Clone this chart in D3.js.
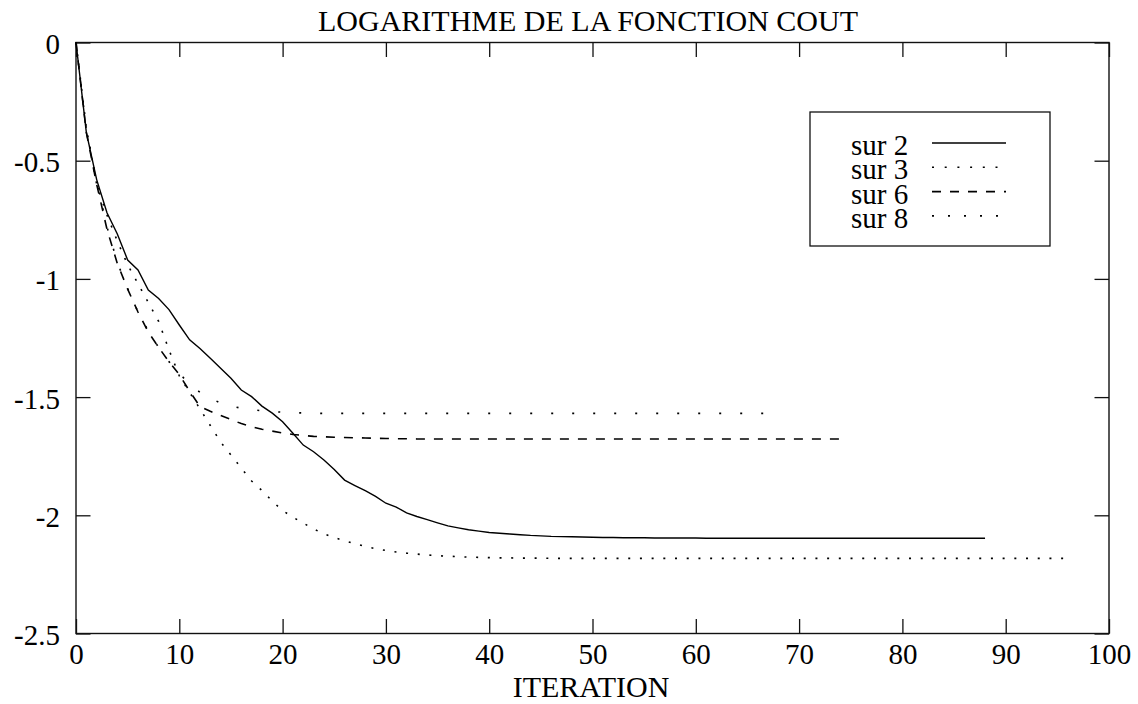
<!DOCTYPE html>
<html>
<head>
<meta charset="utf-8">
<script src="https://cdn.jsdelivr.net/npm/d3@7/dist/d3.min.js"></script>
<style>
  html, body { margin: 0; padding: 0; background: #fff; }
  svg { display: block; }
  text { font-family: "Liberation Serif", "Times New Roman", serif; fill: #000; }
</style>
</head>
<body>
<svg id="chart" width="1138" height="704"></svg>
<script>
// Log of the cost function per iteration, one series per subdivision ("sur N").
// Index in each array = iteration number.
const sur2 = [0, -0.38, -0.58, -0.72, -0.81, -0.92, -0.962, -1.047, -1.083, -1.13,
  -1.195, -1.258, -1.294, -1.336, -1.378, -1.42, -1.47, -1.498, -1.538, -1.568,
  -1.604, -1.653, -1.703, -1.731, -1.766, -1.806, -1.851, -1.874, -1.896, -1.92,
  -1.949, -1.965, -1.99, -2.005, -2.018, -2.032, -2.045, -2.053, -2.061, -2.067,
  -2.073, -2.076, -2.079, -2.082, -2.085, -2.087, -2.089, -2.090, -2.091, -2.092,
  -2.093, -2.094, -2.094, -2.095, -2.095, -2.095, -2.096, -2.096, -2.096, -2.096,
  -2.096, -2.097, -2.097, -2.097, -2.097, -2.097, -2.097, -2.097, -2.097, -2.097,
  -2.097, -2.097, -2.097, -2.097, -2.097, -2.097, -2.097, -2.097, -2.097, -2.097,
  -2.097, -2.097, -2.097, -2.097, -2.097, -2.097, -2.097, -2.097, -2.097];

const sur3 = [0, -0.36, -0.60, -0.73, -0.84, -0.94, -1.02, -1.10, -1.18, -1.30,
  -1.41, -1.48, -1.55, -1.62, -1.69, -1.745, -1.80, -1.855, -1.895, -1.94,
  -1.98, -2.008, -2.033, -2.058, -2.078, -2.094, -2.108, -2.12, -2.132, -2.141,
  -2.149, -2.155, -2.16, -2.164, -2.168, -2.171, -2.173, -2.175, -2.177, -2.178,
  -2.179, -2.18, -2.18, -2.181, -2.181, -2.181, -2.182, -2.182, -2.182, -2.182,
  -2.182, -2.182, -2.182, -2.182, -2.182, -2.182, -2.182, -2.182, -2.182, -2.182,
  -2.182, -2.182, -2.182, -2.182, -2.182, -2.182, -2.182, -2.182, -2.182, -2.182,
  -2.182, -2.182, -2.182, -2.182, -2.182, -2.182, -2.182, -2.182, -2.182, -2.182,
  -2.182, -2.182, -2.182, -2.182, -2.182, -2.182, -2.182, -2.182, -2.182, -2.182,
  -2.182, -2.182, -2.182, -2.182, -2.182, -2.182, -2.182];

const sur6 = [0, -0.38, -0.60, -0.79, -0.935, -1.043, -1.14, -1.225, -1.29, -1.35,
  -1.405, -1.475, -1.54, -1.56, -1.578, -1.595, -1.612, -1.626, -1.636, -1.644,
  -1.652, -1.658, -1.662, -1.666, -1.668, -1.670, -1.671, -1.672, -1.673, -1.674,
  -1.675, -1.676, -1.676, -1.677, -1.677, -1.677, -1.677, -1.677, -1.677, -1.677,
  -1.677, -1.677, -1.677, -1.677, -1.677, -1.677, -1.677, -1.677, -1.677, -1.677,
  -1.677, -1.677, -1.677, -1.677, -1.677, -1.677, -1.677, -1.677, -1.677, -1.677,
  -1.677, -1.677, -1.677, -1.677, -1.677, -1.677, -1.677, -1.677, -1.677, -1.677,
  -1.677, -1.677, -1.677, -1.677, -1.677];

const sur8 = [0, -0.37, -0.59, -0.78, -0.93, -1.04, -1.14, -1.22, -1.29, -1.35,
  -1.40, -1.445, -1.48, -1.505, -1.525, -1.538, -1.547, -1.553, -1.558, -1.561,
  -1.564, -1.566, -1.567, -1.568, -1.569, -1.569, -1.569, -1.569, -1.569, -1.569,
  -1.569, -1.569, -1.569, -1.569, -1.569, -1.569, -1.569, -1.569, -1.569, -1.569,
  -1.569, -1.569, -1.569, -1.569, -1.569, -1.569, -1.569, -1.569, -1.569, -1.569,
  -1.569, -1.569, -1.569, -1.569, -1.569, -1.569, -1.569, -1.569, -1.569, -1.569,
  -1.569, -1.569, -1.569, -1.569, -1.569, -1.569, -1.569, -1.569];

const seriesNames = ["sur 2", "sur 3", "sur 6", "sur 8"];
const xTicks = [0, 10, 20, 30, 40, 50, 60, 70, 80, 90, 100];
const yTicks = [0, -0.5, -1, -1.5, -2, -2.5];
const yTickLabels = ["0", "-0.5", "-1", "-1.5", "-2", "-2.5"];
const titleText = "LOGARITHME DE LA FONCTION COUT";
const xLabelText = "ITERATION";

// Line style per series: curve dash pattern and legend sample dash pattern
const styles = [
  { dash: null,    legendDash: null },
  { dash: "2,9.7", legendDash: "2,10.7" },
  { dash: "9,9",   legendDash: "9,9" },
  { dash: "2,19",  legendDash: "2,14" }
];
const seriesData = [sur2, sur3, sur6, sur8];

const svg = d3.select("#chart");
const W = 1138, H = 704;
const m = { left: 76, right: W - 1109, top: 42.5, bottom: H - 633.5 };

const x = d3.scaleLinear().domain([0, 100]).range([m.left, W - m.right]);
const y = d3.scaleLinear().domain([-2.5, 0]).range([H - m.bottom, m.top]);

const fs = 29;
const titleFs = 30;
const tickLen = 14.5;
const axisColor = "#111";

// Frame with inward ticks on all four sides
svg.append("rect")
  .attr("x", x(0)).attr("y", y(0))
  .attr("width", x(100) - x(0)).attr("height", y(-2.5) - y(0))
  .attr("fill", "none").attr("stroke", axisColor).attr("stroke-width", 1.4);

const bottomAxis = d3.axisBottom(x).tickValues(xTicks).tickSize(-tickLen).tickFormat(d => String(d));
const topAxis = d3.axisTop(x).tickValues(xTicks).tickSize(-tickLen).tickFormat("");
const leftAxis = d3.axisLeft(y).tickValues(yTicks).tickSize(-tickLen)
  .tickFormat((d, i) => yTickLabels[i]);
const rightAxis = d3.axisRight(y).tickValues(yTicks).tickSize(-tickLen).tickFormat("");

function styleAxis(g) {
  g.select(".domain").remove();
  g.selectAll(".tick line").attr("stroke", axisColor).attr("stroke-width", 1.3);
  g.selectAll(".tick text").attr("font-size", fs).attr("font-family", "Liberation Serif").attr("fill", "#000");
}

const gB = svg.append("g").attr("transform", `translate(0,${y(-2.5)})`).call(bottomAxis).call(styleAxis);
gB.selectAll(".tick text").attr("y", 10).attr("dy", "0.71em");
svg.append("g").attr("transform", `translate(0,${y(0)})`).call(topAxis).call(styleAxis);
const gL = svg.append("g").attr("transform", `translate(${x(0)},0)`).call(leftAxis).call(styleAxis);
gL.selectAll(".tick text").attr("x", -16).attr("dy", "0.38em");
svg.append("g").attr("transform", `translate(${x(100)},0)`).call(rightAxis).call(styleAxis);

// Curves
const line = d3.line().x((d, i) => x(i)).y(d => y(d));
seriesData.forEach((vals, k) => {
  svg.append("path")
    .datum(vals)
    .attr("d", line)
    .attr("fill", "none")
    .attr("stroke", "#000")
    .attr("stroke-width", k === 0 ? 1.4 : 1.6)
    .attr("stroke-dasharray", styles[k].dash);
});

// Title and axis label
svg.append("text").attr("x", 588).attr("y", 31).attr("text-anchor", "middle")
  .attr("font-size", titleFs).text(titleText);
svg.append("text").attr("x", 591).attr("y", 697).attr("text-anchor", "middle")
  .attr("font-size", titleFs).text(xLabelText);

// Legend
const lg = svg.append("g");
lg.append("rect").attr("x", 810).attr("y", 112).attr("width", 240).attr("height", 134)
  .attr("fill", "#fff").attr("stroke", axisColor).attr("stroke-width", 1.3);
seriesNames.forEach((name, k) => {
  const base = 155 + k * 24.3;
  lg.append("text").attr("x", 851).attr("y", base).attr("font-size", fs).text(name);
  lg.append("line")
    .attr("x1", 932).attr("x2", 1006)
    .attr("y1", base - 12).attr("y2", base - 12)
    .attr("stroke", "#000").attr("stroke-width", k === 0 ? 1.4 : 1.6)
    .attr("stroke-dasharray", styles[k].legendDash);
});
</script>
</body>
</html>
